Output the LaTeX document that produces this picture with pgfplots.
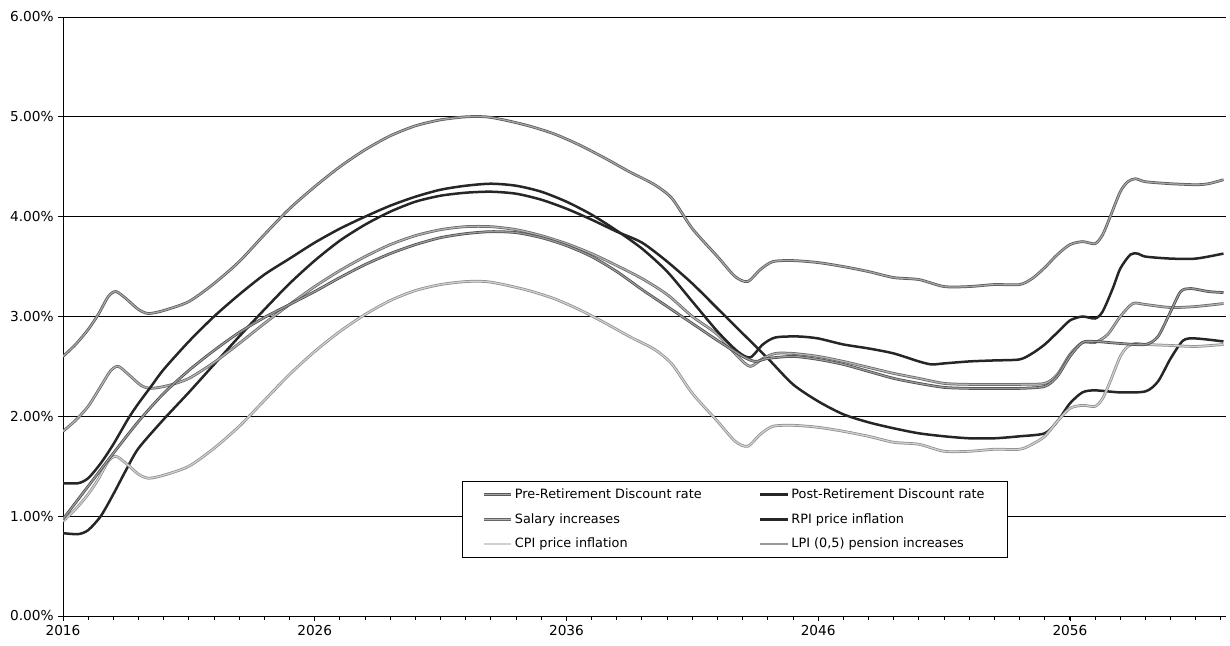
\documentclass[border=0pt]{standalone}
\usepackage{fontspec}
\setmainfont{DejaVu Sans}
\usepackage{pgfplots}
\pgfplotsset{compat=1.18}
\begin{document}
\begin{tikzpicture}
\useasboundingbox (-50.4bp,-24bp) rectangle (933.6bp,492.8bp);
\begin{axis}[
  at={(0,0)}, anchor=south west,
  scale only axis, width=930.4bp, height=479.2bp,
  xmin=2016, xmax=2062.2, ymin=0, ymax=6,
  axis x line*=bottom, axis y line*=left,
  axis line style={black, line width=0.8bp},
  ytick={0,1,2,3,4,5,6},
  ymajorgrids, grid style={black, line width=0.6bp},
  xtick={2016,2026,2036,2046,2056},
  minor xtick={2016,...,2062},
  tick align=outside, major tick length=4bp, minor tick length=3bp,
  tick style={black, line width=0.7bp},
  /pgf/number format/assume math mode=true,
  xticklabel style={/pgf/number format/1000 sep={}},
  yticklabel={\pgfmathprintnumber[fixed,fixed zerofill,precision=2]{\tick}\%},
  tick label style={font=\fontsize{11}{12}\selectfont},
  legend style={at={(rel axis cs:0.343,0.2254)}, anchor=north west, draw=black,
    font=\fontsize{10.3}{12}\selectfont, row sep=6.5bp, inner xsep=16bp, inner ysep=4bp},
  legend columns=2, legend cell align=left,
  legend image code/.code={\draw[#1] (0bp,0bp) -- (22bp,0bp);},
  every axis plot/.append style={smooth, tension=0.45},
]
% A Pre-Retirement discount rate
\addplot[draw=black!65, double=black!35, line width=0.6bp, double distance=1bp] coordinates {
(2016,2.60)(2016.5,2.72)(2017,2.87)(2017.4,3.02)(2017.8,3.20)(2018.1,3.25)(2018.5,3.18)(2019,3.07)(2019.4,3.03)(2020,3.06)
(2021,3.15)(2022,3.33)(2023,3.55)(2024,3.82)(2025,4.08)(2026,4.30)(2027,4.50)(2028,4.67)(2029,4.81)(2030,4.91)
(2031,4.97)(2032,5.00)(2032.8,5.00)(2033.5,4.97)(2034.5,4.91)(2035.5,4.83)(2036.5,4.72)(2037.5,4.59)(2038.5,4.45)(2039.5,4.32)(2040.2,4.18)
(2041,3.88)(2042,3.60)(2042.7,3.40)(2043.2,3.35)(2043.7,3.47)(2044.2,3.55)(2045,3.56)(2046,3.54)(2047,3.50)(2048,3.45)
(2049,3.39)(2050,3.37)(2051,3.30)(2052,3.30)(2053,3.32)(2054,3.32)(2054.5,3.38)(2055,3.49)(2055.5,3.62)(2056,3.72)
(2056.5,3.75)(2057,3.73)(2057.3,3.82)(2057.6,4.00)(2058,4.25)(2058.3,4.35)(2058.6,4.38)(2059,4.35)(2060,4.33)(2061,4.32)
(2061.5,4.33)(2062.1,4.37)};
\addlegendentry{\makebox[193bp][l]{Pre-Retirement Discount rate}}
% F Post-Retirement discount rate
\addplot[draw=black!85, line width=2bp] coordinates {
(2016,0.83)(2016.6,0.82)(2017,0.86)(2017.5,1.00)(2018,1.22)(2018.5,1.46)(2019,1.68)(2020,1.97)(2021,2.24)(2022,2.52)
(2023,2.80)(2024,3.07)(2025,3.33)(2026,3.56)(2027,3.76)(2028,3.92)(2029,4.05)(2030,4.15)(2031,4.21)(2032,4.24)
(2033,4.25)(2034,4.23)(2035,4.17)(2036,4.08)(2037,3.97)(2038,3.85)(2039,3.74)(2040,3.55)(2041,3.33)(2042,3.08)
(2043,2.83)(2044,2.58)(2045,2.32)(2046,2.15)(2047,2.02)(2048,1.94)(2049,1.88)(2050,1.83)(2051,1.80)(2052,1.78)
(2053,1.78)(2054,1.80)(2055,1.83)(2055.5,1.95)(2056,2.13)(2056.5,2.24)(2057,2.26)(2058,2.24)(2059,2.25)(2059.5,2.35)
(2060,2.58)(2060.5,2.76)(2061,2.78)(2062.1,2.75)};
\addlegendentry{Post-Retirement Discount rate}
% C Salary increases
\addplot[draw=black!60, double=black!30, line width=0.6bp, double distance=1bp] coordinates {
(2016,1.85)(2016.5,1.96)(2017,2.10)(2017.5,2.30)(2017.9,2.46)(2018.2,2.50)(2018.6,2.42)(2019.1,2.31)(2019.5,2.28)(2020.2,2.31)
(2021,2.38)(2022,2.54)(2023,2.73)(2024,2.93)(2025,3.12)(2026,3.30)(2027,3.46)(2028,3.60)(2029,3.72)(2030,3.81)
(2031,3.87)(2032,3.90)(2033,3.90)(2034,3.87)(2035,3.81)(2036,3.73)(2037,3.63)(2038,3.51)(2039,3.38)(2040,3.22)
(2041,3.00)(2042,2.82)(2042.8,2.60)(2043.3,2.50)(2043.8,2.58)(2044.3,2.63)(2045,2.63)(2046,2.60)(2047,2.55)(2048,2.49)
(2049,2.43)(2050,2.38)(2051,2.33)(2052,2.32)(2053,2.32)(2054,2.32)(2055,2.33)(2055.5,2.42)(2056,2.62)(2056.5,2.74)
(2057,2.74)(2057.5,2.82)(2058,3.00)(2058.5,3.13)(2059,3.12)(2060,3.09)(2061,3.10)(2062.1,3.13)};
\addlegendentry{\makebox[193bp][l]{Salary increases}}
% B RPI price inflation
\addplot[draw=black!85, line width=2bp] coordinates {
(2016,1.33)(2016.6,1.33)(2017,1.38)(2017.5,1.53)(2018,1.72)(2018.6,1.98)(2019,2.13)(2019.5,2.30)(2020,2.47)(2021,2.75)
(2022,3.00)(2023,3.22)(2024,3.42)(2025,3.58)(2026,3.74)(2027,3.88)(2028,4.00)(2029,4.11)(2030,4.20)(2031,4.27)
(2032,4.31)(2033,4.33)(2034,4.31)(2035,4.25)(2036,4.15)(2037,4.02)(2038,3.86)(2039,3.68)(2040,3.45)(2041,3.15)
(2042,2.85)(2042.8,2.65)(2043.3,2.59)(2043.8,2.72)(2044.3,2.79)(2045.2,2.80)(2046,2.78)(2047,2.72)(2048,2.68)(2049,2.63)
(2050,2.55)(2050.5,2.52)(2051,2.53)(2052,2.55)(2053,2.56)(2054,2.57)(2054.5,2.63)(2055,2.72)(2055.5,2.84)(2056,2.96)
(2056.5,3.00)(2057,2.98)(2057.3,3.05)(2057.7,3.28)(2058,3.48)(2058.4,3.62)(2058.7,3.63)(2059,3.60)(2060,3.58)(2061,3.58)
(2062.1,3.63)};
\addlegendentry{RPI price inflation}
% E CPI price inflation
\addplot[draw=black!45, double=black!18, line width=0.6bp, double distance=1bp] coordinates {
(2016,0.95)(2016.5,1.07)(2017,1.22)(2017.4,1.37)(2017.8,1.55)(2018.1,1.60)(2018.5,1.53)(2019,1.42)(2019.4,1.38)(2020,1.41)
(2021,1.50)(2022,1.68)(2023,1.90)(2024,2.16)(2025,2.42)(2026,2.65)(2027,2.85)(2028,3.02)(2029,3.16)(2030,3.26)
(2031,3.32)(2032,3.35)(2032.8,3.35)(2033.5,3.32)(2034.5,3.26)(2035.5,3.18)(2036.5,3.07)(2037.5,2.94)(2038.5,2.80)(2039.5,2.67)(2040.2,2.52)
(2041,2.23)(2042,1.95)(2042.7,1.75)(2043.2,1.70)(2043.7,1.82)(2044.2,1.90)(2045,1.91)(2046,1.89)(2047,1.85)(2048,1.80)
(2049,1.74)(2050,1.72)(2051,1.65)(2052,1.65)(2053,1.67)(2054,1.67)(2054.5,1.72)(2055,1.80)(2055.5,1.95)(2056,2.08)
(2056.5,2.11)(2057,2.10)(2057.3,2.18)(2057.6,2.35)(2058,2.60)(2058.3,2.70)(2058.6,2.73)(2059,2.72)(2060,2.71)(2061,2.70)
(2062.1,2.72)};
\addlegendentry{\makebox[193bp][l]{CPI price inflation}}
% D LPI (0,5) pension increases
\addplot[draw=black!70, double=black!40, line width=0.6bp, double distance=1bp] coordinates {
(2016,0.97)(2017,1.30)(2018,1.63)(2019,1.95)(2020,2.23)(2021,2.46)(2022,2.66)(2023,2.84)(2024,2.99)(2025,3.12)
(2026,3.25)(2027,3.39)(2028,3.52)(2029,3.63)(2030,3.72)(2031,3.79)(2032,3.83)(2033,3.85)(2034,3.84)(2035,3.79)
(2036,3.71)(2037,3.60)(2038,3.45)(2039,3.27)(2040,3.10)(2041,2.93)(2042,2.76)(2043,2.60)(2043.5,2.55)(2044,2.58)
(2045,2.60)(2046,2.57)(2047,2.52)(2048,2.45)(2049,2.38)(2050,2.33)(2051,2.29)(2052,2.28)(2053,2.28)(2054,2.28)
(2055,2.30)(2055.5,2.40)(2056,2.60)(2056.5,2.74)(2057,2.75)(2058,2.73)(2059,2.72)(2059.5,2.80)(2060,3.05)(2060.4,3.25)
(2060.8,3.28)(2061.5,3.25)(2062.1,3.24)};
\addlegendentry{LPI (0,5) pension increases}
\end{axis}
\end{tikzpicture}
\end{document}
